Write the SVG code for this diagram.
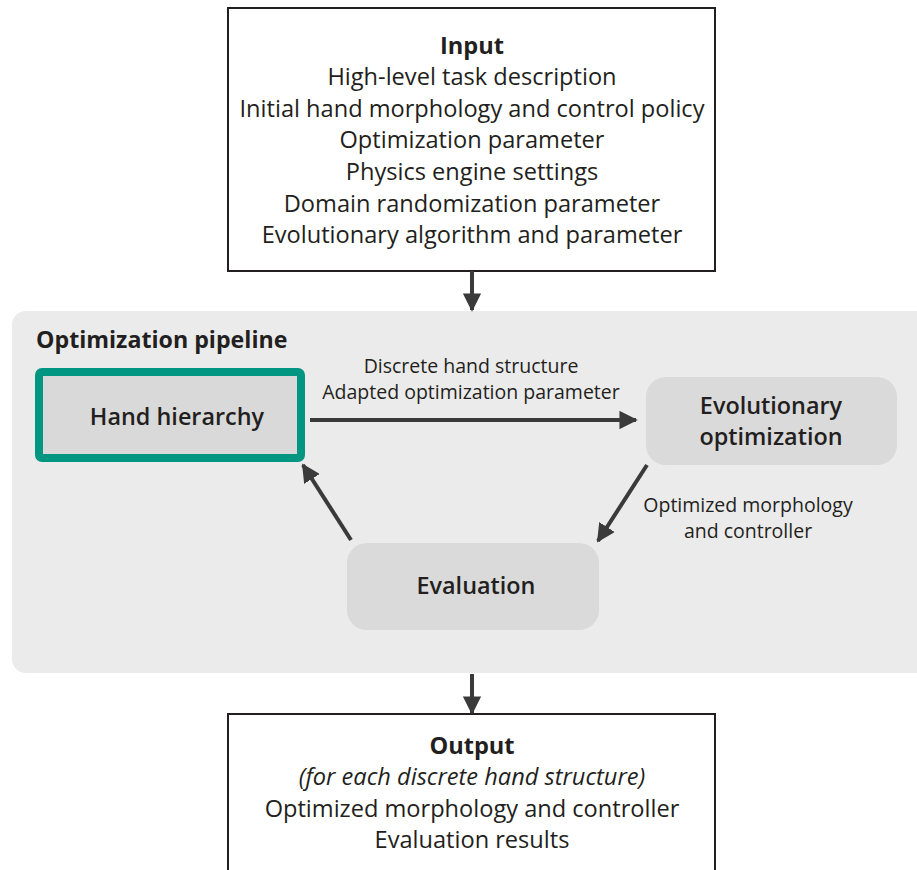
<svg xmlns="http://www.w3.org/2000/svg" width="917" height="870" viewBox="0 0 917 870">
  <defs>
    <marker id="head" viewBox="0 0 10 10" refX="9" refY="5" markerWidth="4.6" markerHeight="4.6" markerUnits="strokeWidth" orient="auto">
      <path d="M0,0 L10,5 L0,10 z" fill="#3a3a3a"/>
    </marker>
    <style>
      text { font-family: "Open Sans", "Noto Sans", "Liberation Sans", sans-serif; fill: #231f20; }
      .io { font-size: 23.6px; text-anchor: middle; }
      .b { font-weight: bold; }
      .node { font-size: 23.4px; font-weight: 600; text-anchor: middle; }
      .lbl { font-size: 19.5px; text-anchor: middle; }
      .edge { stroke: #3a3a3a; stroke-width: 4; fill: none; marker-end: url(#head); }
      .box { fill: #ffffff; stroke: #231f20; stroke-width: 2; }
      .soft { fill: #dadada; }
    </style>
  </defs>

  <rect width="917" height="870" fill="#ffffff"/>

  <!-- pipeline panel -->
  <g id="pipeline">
    <rect x="12" y="311" width="930" height="362" rx="14" fill="#ebebeb"/>
    <text x="36" y="348" font-size="23.2" font-weight="bold">Optimization pipeline</text>
  </g>

  <!-- input -->
  <g id="input">
    <rect class="box" x="228" y="8" width="487" height="263"/>
    <text class="io b" x="472" y="54">Input</text>
    <text class="io" x="472" y="85">High-level task description</text>
    <text class="io" x="472" y="117">Initial hand morphology and control policy</text>
    <text class="io" x="472" y="148">Optimization parameter</text>
    <text class="io" x="472" y="180">Physics engine settings</text>
    <text class="io" x="472" y="212">Domain randomization parameter</text>
    <text class="io" x="472" y="243">Evolutionary algorithm and parameter</text>
  </g>

  <g id="hand-hierarchy">
    <rect x="39" y="372" width="262" height="86" rx="3" fill="#d9d9d9" stroke="#009682" stroke-width="8"/>
    <text class="node" x="177" y="425">Hand hierarchy</text>
  </g>

  <g id="evolutionary-optimization">
    <rect class="soft" x="646" y="377" width="251" height="88" rx="20"/>
    <text class="node" x="771" y="414">Evolutionary</text>
    <text class="node" x="771" y="445">optimization</text>
  </g>

  <g id="evaluation">
    <rect class="soft" x="347" y="543" width="252" height="87" rx="20"/>
    <text class="node" x="476" y="594">Evaluation</text>
  </g>

  <g id="output">
    <rect class="box" x="228" y="714" width="487" height="170"/>
    <text class="io b" x="472" y="754">Output</text>
    <text class="io" x="472" y="785" font-style="italic">(for each discrete hand structure)</text>
    <text class="io" x="472" y="817">Optimized morphology and controller</text>
    <text class="io" x="472" y="848">Evaluation results</text>
  </g>

  <g id="connectors">
    <line class="edge" x1="472" y1="271" x2="472" y2="310"/>
    <line class="edge" x1="310" y1="420" x2="636" y2="420"/>
    <line class="edge" x1="647" y1="465" x2="598" y2="541"/>
    <line class="edge" x1="351" y1="540" x2="303" y2="465"/>
    <line class="edge" x1="472" y1="674" x2="472" y2="713"/>
    <text class="lbl" x="471" y="373">Discrete hand structure</text>
    <text class="lbl" x="471" y="399">Adapted optimization parameter</text>
    <text class="lbl" x="748" y="512">Optimized morphology</text>
    <text class="lbl" x="748" y="538">and controller</text>
  </g>
</svg>
